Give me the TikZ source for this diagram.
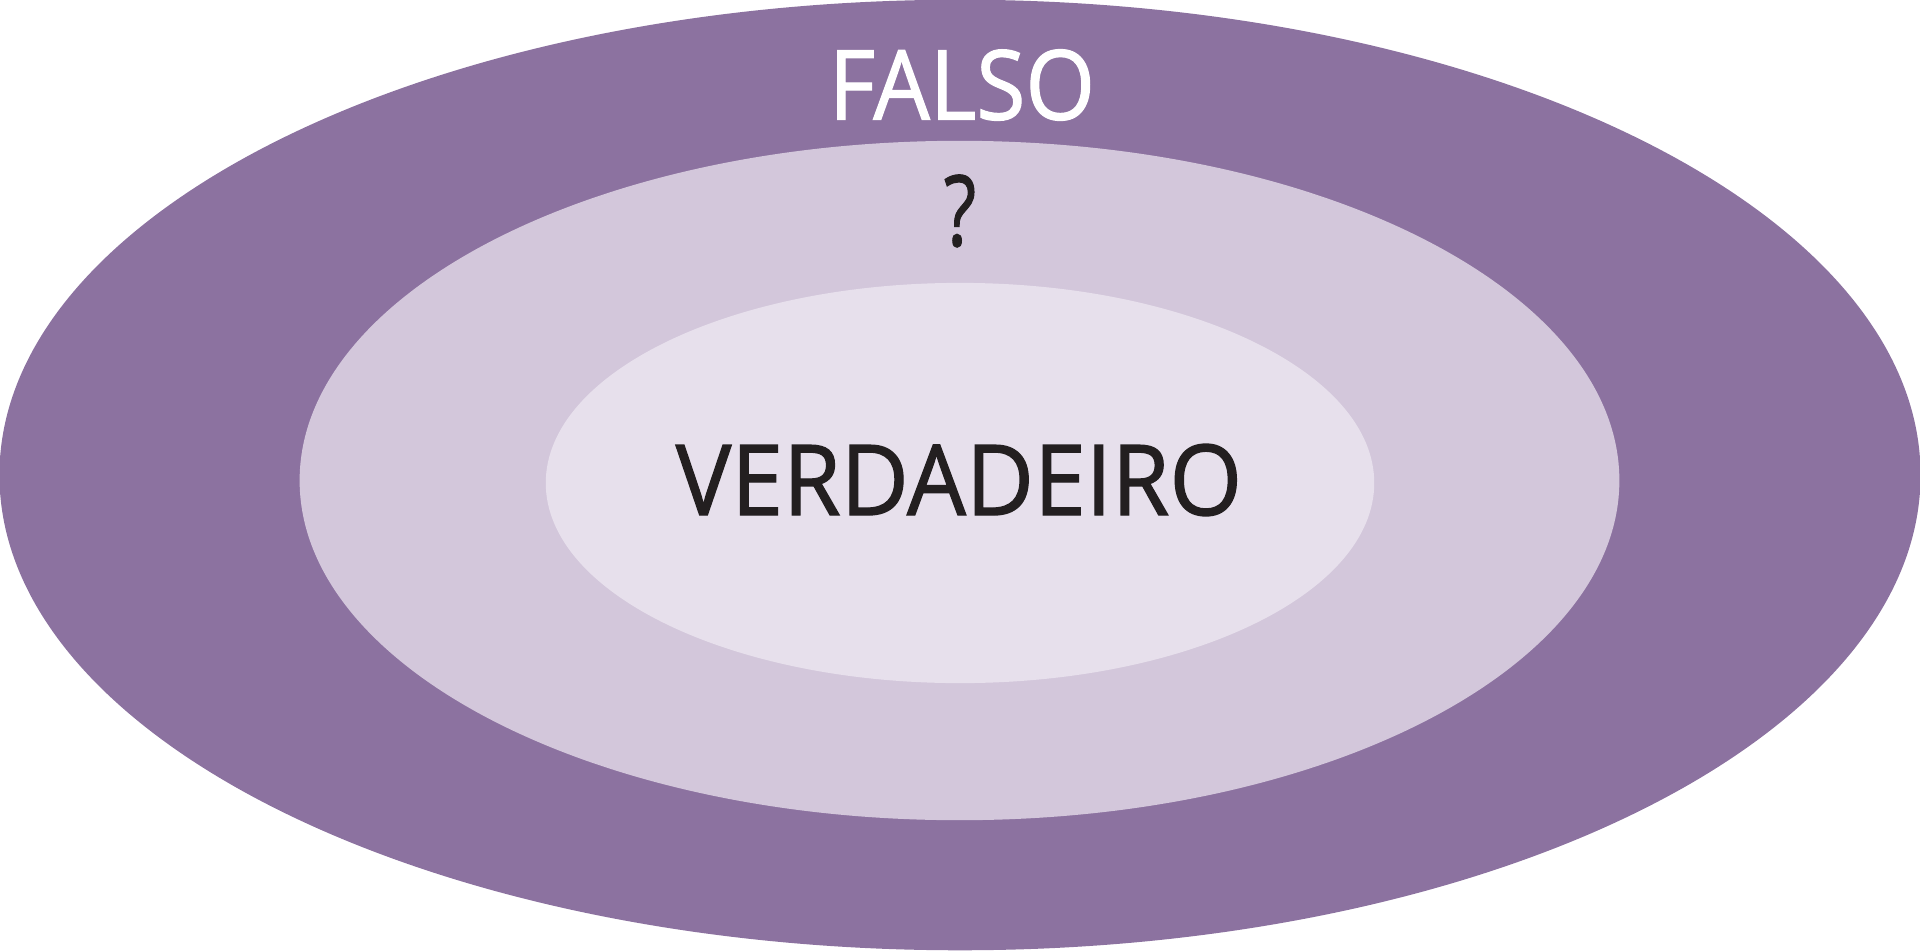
\documentclass[tikz,border=0pt]{standalone}
\usepackage{fontspec}
\setmainfont{Open Sans}[RawFeature={embolden=1.3}]
\usetikzlibrary{shapes.geometric}
\definecolor{outerc}{HTML}{8C72A0}
\definecolor{midc}{HTML}{D3C7DB}
\definecolor{innerc}{HTML}{E7E0EC}
\definecolor{txtc}{HTML}{231F20}
\begin{document}
\begin{tikzpicture}[x=0.01cm,y=-0.01cm,
  ring/.style={ellipse,draw=none,inner sep=0pt,outer sep=0pt},
  lbl/.style={inner sep=0pt,outer sep=0pt,anchor=center}]
\useasboundingbox (0,0) rectangle (1920,951);
\node[ring,fill=outerc,minimum width=19.2cm,minimum height=9.5cm] (outer) at (960,475) {};
\node[ring,fill=midc,minimum width=13.19cm,minimum height=6.79cm] (middle) at (959.5,480.5) {};
\node[ring,fill=innerc,minimum width=8.28cm,minimum height=4.0cm] (inner) at (960,483) {};
\node[lbl,text=white] (falso) at (962,85) {\resizebox{2.66cm}{0.70cm}{FALSO}};
\node[lbl,text=txtc] (q) at (960,211) {\resizebox{0.32cm}{0.71cm}{?}};
\node[lbl,text=txtc] (verd) at (959,480) {\resizebox{5.66cm}{0.71cm}{VERDADEIRO}};
\end{tikzpicture}
\end{document}
